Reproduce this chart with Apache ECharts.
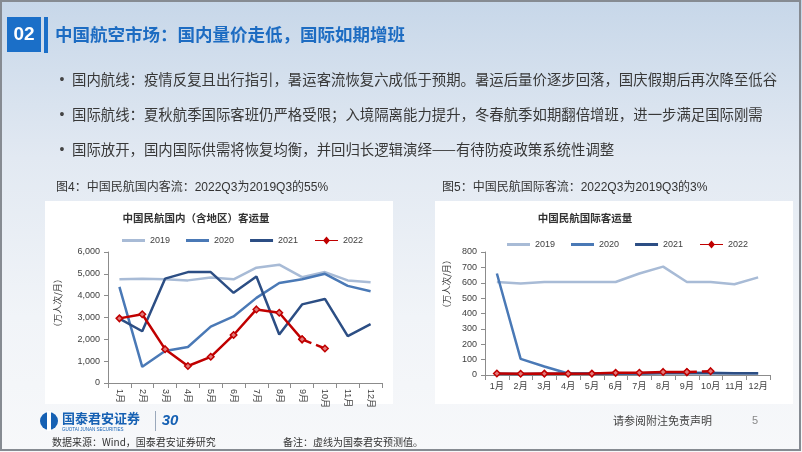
<!DOCTYPE html>
<html><head><meta charset="utf-8">
<script src="https://cdn.jsdelivr.net/npm/echarts@6/dist/echarts.min.js"></script>
<style>html,body{margin:0;padding:0;background:#fff}#c{width:802px;height:452px}</style>
</head><body><div id="c"></div>
<script>
const months = ['1月','2月','3月','4月','5月','6月','7月','8月','9月','10月','11月','12月'];
const years = ['2019','2020','2021','2022'];
// 国内（含地区）客运量 万人次/月
const dom2019 = [4750,4780,4750,4700,4830,4750,5280,5420,4850,5080,4700,4620];
const dom2020 = [4400,740,1470,1650,2580,3050,3900,4580,4750,5000,4450,4200];
const dom2021 = [2950,2370,4780,5080,5080,4130,4880,2220,3600,3850,2150,2700];
const dom2022 = [2960,3150,1550,780,1200,2200,3370,3220,2000];
const dom2022Est = [null,null,null,null,null,null,null,null,2000,1580];
// 国际客运量 万人次/月
const intl2019 = [605,595,605,605,605,605,660,705,605,605,590,635];
const intl2020 = [660,105,55,10,8,10,12,15,15,15,12,12];
const intl2021 = [8,6,8,9,9,10,10,12,12,12,12,12];
const intl2022 = [10,8,9,8,9,14,15,20,19];
const intl2022Est = [null,null,null,null,null,null,null,null,19,25];
const domTicks = {min:0, max:6000, interval:1000};
const intlTicks = {min:0, max:800, interval:100};

const CJK = '"Noto Sans CJK SC", sans-serif';
const MIX = '"Liberation Sans", "Noto Sans CJK SC", sans-serif';
const colors = {'2019':'#a8bbd6','2020':'#4a79b6','2021':'#2c4e84','2022':'#c00000'};

function lineSeries(name, data, idx, dashed) {
  const s = {
    name, type:'line', data, xAxisIndex:idx, yAxisIndex:idx,
    lineStyle:{color:colors[name], width:2.5, type: dashed ? 'dashed' : 'solid'},
    itemStyle:{color:colors[name]},
    connectNulls:false, animation:false, z: name==='2022'?5:3
  };
  if (name === '2022') {
    s.symbol = 'diamond'; s.symbolSize = 6.5;
    s.itemStyle = {color:'#e37a7a', borderColor:'#c00000', borderWidth:1.5};
  } else {
    s.symbol = 'none';
  }
  return s;
}

const chart = echarts.init(document.getElementById('c'), null, {renderer:'canvas'});
const axisLabelStyle = {color:'#404040', fontSize:9, fontFamily:MIX};
function xAx(idx, rotate) {
  return {type:'category', gridIndex:idx, data:months, boundaryGap:true,
    axisLine:{lineStyle:{color:'#8c8c8c', width:1}},
    axisTick:{show:true, lineStyle:{color:'#8c8c8c'}},
    axisLabel:Object.assign({rotate:rotate, margin:rotate?6:7, interval:0}, axisLabelStyle)};
}
function yAx(idx, ticks) {
  return Object.assign({type:'value', gridIndex:idx,
    axisLine:{show:true, lineStyle:{color:'#8c8c8c', width:1}},
    axisTick:{show:true, length:4, lineStyle:{color:'#8c8c8c'}},
    splitLine:{show:false},
    axisLabel:Object.assign({margin:8, formatter:v=>v.toLocaleString('en-US')}, axisLabelStyle)}, ticks);
}
const legText = {color:'#404040', fontSize:9, fontFamily:MIX};
const diamondIcon = 'path://M0,3.4 L8.5,3.4 L11.5,0 L14.5,3.4 L23,3.4 L23,4.6 L14.5,4.6 L11.5,8 L8.5,4.6 L0,4.6 Z';
function legLines(left, top) {
  return {data:years.slice(0,3).map(n=>({name:n, icon:'rect', itemStyle:{color:colors[n]}})),
    left, top, itemWidth:23, itemHeight:3, itemGap:16, textStyle:legText, selectedMode:false};
}
function leg22(left, top) {
  return {data:[{name:'2022', icon:diamondIcon, itemStyle:{color:'#c00000', borderWidth:0}}],
    left, top, itemWidth:23, itemHeight:8, textStyle:legText, selectedMode:false};
}

const option = {
  animation:false,
  graphic:[
    {type:'rect', z:-20, shape:{x:0,y:0,width:802,height:452},
      style:{fill:{type:'linear',x:0,y:0,x2:0,y2:1,colorStops:[
        {offset:0,color:'#c7d7e9'},{offset:0.35,color:'#e2e9f2'},{offset:0.7,color:'#f1f4f8'},{offset:1,color:'#f7f8fa'}]}}},
    {type:'rect', z:-19, shape:{x:1,y:1,width:799,height:449}, style:{fill:'none', stroke:'#868b92', lineWidth:2}},
    {type:'rect', z:-10, shape:{x:45,y:201,width:348,height:203}, style:{fill:'#ffffff'}},
    {type:'rect', z:-10, shape:{x:435,y:201,width:358,height:203}, style:{fill:'#ffffff'}},
    // header
    {type:'rect', shape:{x:7,y:17,width:34,height:35}, style:{fill:'#1b6fc8'}},
    {type:'text', x:24, y:34.5, style:{text:'02', fill:'#fff', font:'bold 19px "Liberation Sans", sans-serif', textAlign:'center', textVerticalAlign:'middle'}},
    {type:'rect', shape:{x:44,y:17,width:4,height:36}, style:{fill:'#1b6fc8'}},
    {type:'text', x:55, y:34.5, style:{text:'中国航空市场：国内量价走低，国际如期增班', fill:'#1d6cc2', font:'bold 17.5px "Noto Sans CJK SC", sans-serif', textVerticalAlign:'middle'}},
    // bullets
    {type:'text', x:62, y:80, style:{text:'•', fill:'#444', font:'14px sans-serif', textVerticalAlign:'middle', textAlign:'center'}},
    {type:'text', x:72, y:80, style:{text:'国内航线：疫情反复且出行指引，暑运客流恢复六成低于预期。暑运后量价逐步回落，国庆假期后再次降至低谷', fill:'#383838', font:'14.4px "Noto Sans CJK SC", sans-serif', textVerticalAlign:'middle'}},
    {type:'text', x:62, y:115, style:{text:'•', fill:'#444', font:'14px sans-serif', textVerticalAlign:'middle', textAlign:'center'}},
    {type:'text', x:72, y:115, style:{text:'国际航线：夏秋航季国际客班仍严格受限；入境隔离能力提升，冬春航季如期翻倍增班，进一步满足国际刚需', fill:'#383838', font:'14.4px "Noto Sans CJK SC", sans-serif', textVerticalAlign:'middle'}},
    {type:'text', x:62, y:150, style:{text:'•', fill:'#444', font:'14px sans-serif', textVerticalAlign:'middle', textAlign:'center'}},
    {type:'text', x:72, y:150, style:{text:'国际放开，国内国际供需将恢复均衡，并回归长逻辑演绎——有待防疫政策系统性调整', fill:'#383838', font:'14.4px "Noto Sans CJK SC", sans-serif', textVerticalAlign:'middle'}},
    // figure captions
    {type:'text', x:56, y:188, style:{text:'图4：中国民航国内客流：2022Q3为2019Q3的55%', fill:'#333', font:'12px '+MIX, textVerticalAlign:'middle'}},
    {type:'text', x:442, y:188, style:{text:'图5：中国民航国际客流：2022Q3为2019Q3的3%', fill:'#333', font:'12px '+MIX, textVerticalAlign:'middle'}},
    // chart titles
    {type:'text', x:196, y:218, style:{text:'中国民航国内（含地区）客运量', fill:'#333', font:'bold 10.5px '+CJK, textAlign:'center', textVerticalAlign:'middle'}},
    {type:'text', x:585, y:218, style:{text:'中国民航国际客运量', fill:'#333', font:'bold 10.5px '+CJK, textAlign:'center', textVerticalAlign:'middle'}},
    // axis names
    {type:'text', x:58, y:303, rotation:Math.PI/2, style:{text:'（万人次/月）', fill:'#404040', font:'9px '+CJK, textAlign:'center', textVerticalAlign:'middle'}},
    {type:'text', x:447, y:284, rotation:Math.PI/2, style:{text:'（万人次/月）', fill:'#404040', font:'9px '+CJK, textAlign:'center', textVerticalAlign:'middle'}},
    // footer
    {type:'circle', shape:{cx:49,cy:421,r:9}, style:{fill:'#1560b3'}},
    {type:'rect', shape:{x:47,y:411,width:4,height:20}, style:{fill:'#ffffff'}},
    {type:'text', x:62, y:418, style:{text:'国泰君安证券', fill:'#1560b3', font:'bold 13px '+CJK, textVerticalAlign:'middle'}},
    {type:'text', x:62, y:430, style:{text:'GUOTAI JUNAN SECURITIES', fill:'#1560b3', font:'4.5px "Liberation Sans", sans-serif', textVerticalAlign:'middle'}},
    {type:'rect', shape:{x:155,y:411,width:1,height:20}, style:{fill:'#9aa8bb'}},
    {type:'text', x:170, y:421, style:{text:'30', fill:'#1560b3', font:'bold italic 15px "Liberation Sans", sans-serif', textAlign:'center', textVerticalAlign:'middle'}},
    {type:'text', x:52, y:442, style:{text:'数据来源：Wind，国泰君安证券研究', fill:'#333', font:'10px '+CJK, textVerticalAlign:'middle'}},
    {type:'text', x:283, y:442, style:{text:'备注：虚线为国泰君安预测值。', fill:'#333', font:'10px '+CJK, textVerticalAlign:'middle'}},
    {type:'text', x:613, y:421, style:{text:'请参阅附注免责声明', fill:'#444', font:'11px '+CJK, textVerticalAlign:'middle'}},
    {type:'text', x:752, y:421, style:{text:'5', fill:'#888', font:'11px "Liberation Sans", sans-serif', textVerticalAlign:'middle'}}
  ],
  legend:[
    legLines(117, 231), leg22(310, 231),
    legLines(502, 235), leg22(695, 235)
  ],
  grid:[
    {left:108, top:252, width:274, height:131},
    {left:485, top:252, width:285, height:123}
  ],
  xAxis:[xAx(0,-90), xAx(1,0)],
  yAxis:[yAx(0,domTicks), yAx(1,intlTicks)],
  series:[
    lineSeries('2019', dom2019, 0), lineSeries('2020', dom2020, 0), lineSeries('2021', dom2021, 0),
    lineSeries('2022', dom2022, 0), lineSeries('2022', dom2022Est, 0, true),
    lineSeries('2019', intl2019, 1), lineSeries('2020', intl2020, 1), lineSeries('2021', intl2021, 1),
    lineSeries('2022', intl2022, 1), lineSeries('2022', intl2022Est, 1, true)
  ]
};
chart.setOption(option);
</script></body></html>
